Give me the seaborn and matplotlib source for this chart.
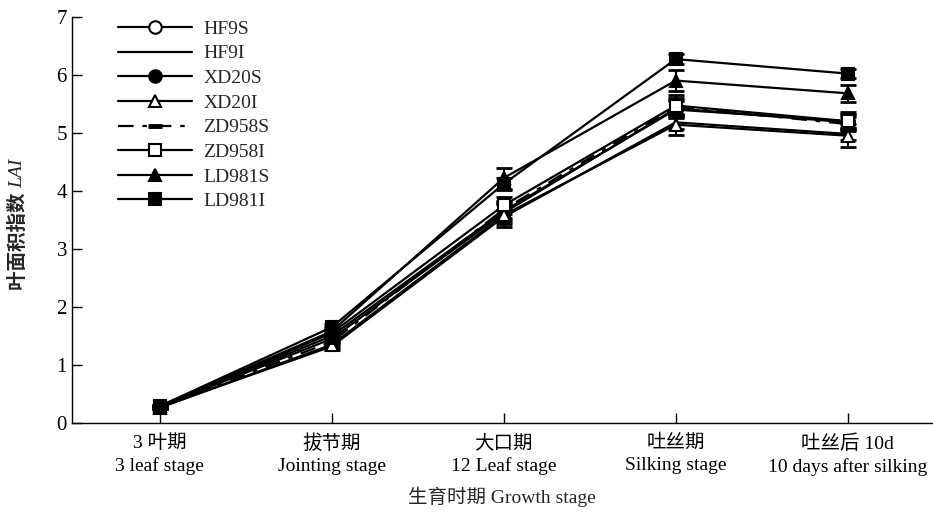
import matplotlib
matplotlib.use("Agg")
import matplotlib.pyplot as plt
import seaborn as sns
import pandas as pd
import numpy as np

stages = ["3 叶期\n3 leaf stage", "拔节期\nJointing stage", "大口期\n12 Leaf stage",
          "吐丝期\nSilking stage", "吐丝后 10d\n10 days after silking"]
series = ["HF9S", "HF9I", "XD20S", "XD20I", "ZD958S", "ZD958I", "LD981S", "LD981I"]

HF9S   = [0.28, 1.45, 3.62, 5.42, 5.18]
HF9I   = [0.27, 1.32, 3.55, 5.18, 4.98]
XD20S  = [0.28, 1.50, 3.65, 5.40, 5.20]
XD20I  = [0.26, 1.35, 3.58, 5.14, 4.95]
ZD958S = [0.27, 1.40, 3.68, 5.45, 5.15]
ZD958I = [0.28, 1.55, 3.75, 5.47, 5.20]
LD981S = [0.29, 1.58, 4.22, 5.90, 5.68]
LD981I = [0.29, 1.65, 4.12, 6.27, 6.02]

HF9S_err   = [0.02, 0.08, 0.15, 0.15, 0.12]
HF9I_err   = [0.02, 0.06, 0.12, 0.12, 0.10]
XD20S_err  = [0.02, 0.08, 0.15, 0.15, 0.12]
XD20I_err  = [0.02, 0.06, 0.20, 0.18, 0.20]
ZD958S_err = [0.02, 0.07, 0.14, 0.15, 0.12]
ZD958I_err = [0.02, 0.08, 0.15, 0.18, 0.15]
LD981S_err = [0.02, 0.08, 0.18, 0.18, 0.15]
LD981I_err = [0.02, 0.06, 0.10, 0.08, 0.08]

values = [HF9S, HF9I, XD20S, XD20I, ZD958S, ZD958I, LD981S, LD981I]
errors = [HF9S_err, HF9I_err, XD20S_err, XD20I_err, ZD958S_err, ZD958I_err, LD981S_err, LD981I_err]

rows = []
for s, v, e in zip(series, values, errors):
    for i, (vv, ee) in enumerate(zip(v, e)):
        rows.append({"series": s, "x": i, "LAI": vv, "err": ee})
df = pd.DataFrame(rows)

sns.set_theme(style="ticks")
plt.rcParams["font.family"] = ["Liberation Serif", "Noto Sans CJK SC"]

fig = plt.figure(figsize=(9.33, 5.13), dpi=100)
ax = fig.add_axes([0.077, 0.1754, 0.922, 0.792])

markers = {"HF9S": "o", "HF9I": "", "XD20S": "o", "XD20I": "^",
           "ZD958S": "_", "ZD958I": "s", "LD981S": "^", "LD981I": "s"}
fills = {"HF9S": "white", "HF9I": "black", "XD20S": "black", "XD20I": "white",
         "ZD958S": "black", "ZD958I": "white", "LD981S": "black", "LD981I": "black"}
styles = {"ZD958S": (0, (7, 4, 2, 4))}

for s in series:
    d = df[df.series == s]
    ax.errorbar(d["x"], d["LAI"], yerr=d["err"], fmt="none", ecolor="black",
                elinewidth=1.5, capsize=6, capthick=2, zorder=2)

for s in series:
    d = df[df.series == s]
    mk = markers[s] if markers[s] else None
    sns.lineplot(data=d, x="x", y="LAI", ax=ax, color="black", linewidth=1.6,
                 marker=mk, markersize=9 if s != "ZD958S" else 10,
                 markerfacecolor=fills[s], markeredgecolor="black",
                 markeredgewidth=1.5 if s != "ZD958S" else 3.5,
                 linestyle=styles.get(s, "-"), label=s, zorder=3)

ax.set_xlim(-0.51, 4.49)
ax.set_ylim(0, 7)
ax.set_yticks(range(0, 8))
ax.set_xticks(range(5))
ax.set_xticklabels(stages, fontsize=14, linespacing=1.4)
ax.tick_params(axis="both", direction="in", length=7, width=1, colors="black", labelsize=15)
ax.tick_params(axis="x", pad=8, labelsize=14)
for sp in ["top", "right"]:
    ax.spines[sp].set_visible(False)
for sp in ["left", "bottom"]:
    ax.spines[sp].set_linewidth(1)
    ax.spines[sp].set_color("black")

ax.set_xlabel("生育时期 Growth stage", fontsize=14, labelpad=8)
ax.set_ylabel("")

# y-axis label: Chinese part (bold sans) + italic LAI
t1 = fig.text(18 / 933, 1 - 290 / 513, "叶面积指数 ", rotation=90, ha="center", va="bottom",
              fontsize=14, fontweight="bold", family=["Noto Sans CJK SC", "DejaVu Sans"])
ax.annotate("LAI", xy=(0.5, 1.0), xycoords=t1, rotation=90, ha="center", va="bottom",
            fontsize=14, fontstyle="italic", family=["Liberation Serif"])

leg = ax.legend(loc="upper left", bbox_to_anchor=(0.04, 1.02), frameon=False,
                fontsize=14, handlelength=3.8, labelspacing=0.36, handletextpad=0.6,
                borderaxespad=0.2)

fig.savefig("out.png", dpi=100)
